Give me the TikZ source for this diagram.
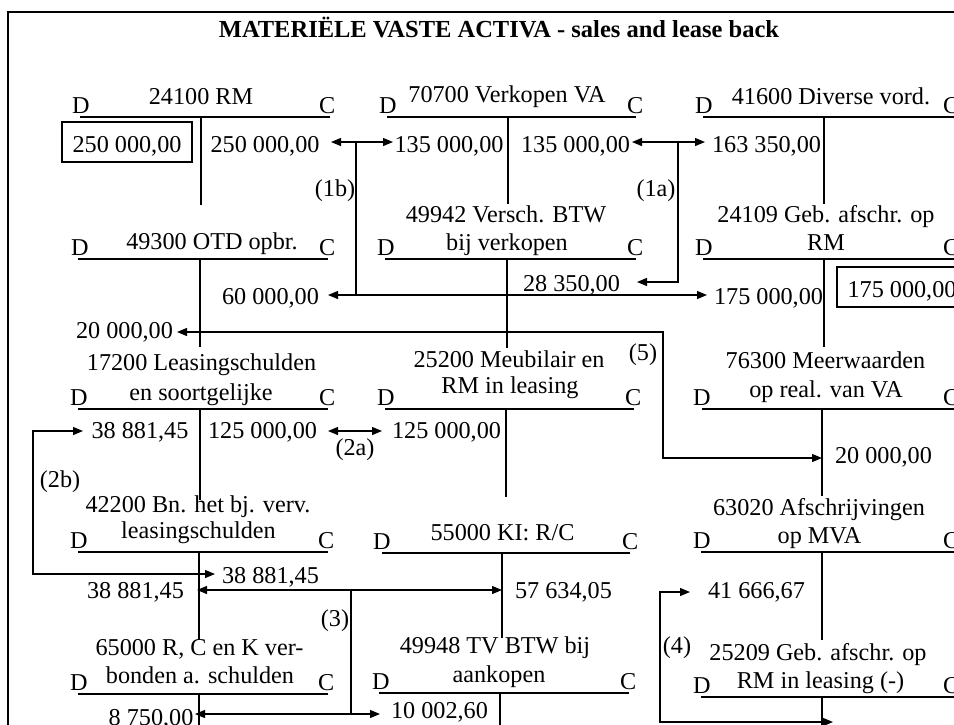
\documentclass[tikz,border=0pt]{standalone}
\usepackage{fontspec}
\setmainfont{Liberation Serif}
\usetikzlibrary{arrows.meta}
\newcommand{\tacc}[8]{%
  \draw[tline] (#2,#4) -- (#3,#4);
  \draw[tline] (#5,#4) -- (#5,#6);
  \node[anchor=base west] (#1D) at (#7,#4-4) {D};
  \node[anchor=base west] (#1C) at (#8,#4-4) {C};
}
\begin{document}
\begin{tikzpicture}[x=1pt,y=-1pt,
  every node/.style={inner sep=0pt, font=\fontsize{24.2}{28}\selectfont},
  lbl/.style={anchor=base},
  tline/.style={line width=1.2pt},
  conn/.style={line width=1.2pt, {Triangle[length=10pt,width=8pt]}-{Triangle[length=10pt,width=8pt]}},
  conn1/.style={line width=1.2pt, -{Triangle[length=10pt,width=8pt]}},
  boxed/.style={draw, line width=1.2pt, minimum width=130pt, minimum height=40pt, text height=21pt, text depth=0pt, anchor=center},
  ]
\useasboundingbox (0,0) rectangle (954,724);
\fill[white] (0,0) rectangle (954,724);
\draw[line width=2.2pt] (8,12) rectangle (1000,800);

\node[anchor=base, font=\bfseries\fontsize{24.5}{28}\selectfont] (title) at (499,37) {MATERIËLE VASTE ACTIVA - sales and lease back};

% T-accounts
\tacc{A1}{80}{330}{117}{201}{205}{72}{319}
\tacc{A2}{387}{636}{117}{508}{204}{379}{627}
\tacc{A3}{703}{960}{117}{824}{204}{695}{943}
\tacc{B1}{78}{328}{259}{200}{347}{71}{319}
\tacc{B2}{385}{636}{259}{507}{348}{377}{627}
\tacc{B3}{703}{960}{259}{824}{347}{695}{943}
\tacc{C1}{78}{328}{409}{200}{500}{70}{319}
\tacc{C2}{385}{634}{409}{506}{497}{377}{625}
\tacc{C3}{702}{960}{409}{822}{496}{693}{943}
\tacc{D1}{78}{328}{552}{199}{640}{70}{318}
\tacc{D2}{382}{630}{553}{502}{638}{373}{622}
\tacc{D3}{701}{960}{552}{822}{640}{693}{943}
\tacc{E1}{78}{328}{694}{199}{740}{70}{318}
\tacc{E2}{379}{629}{693}{500}{740}{372}{620}
\tacc{E3}{701}{960}{697}{822}{740}{693}{943}

% Row 1
\node[lbl] (tA1) at (201,104) {24100 RM};
\node[boxed] (boxA1) at (127,142) {250 000,00};
\node[lbl] (cA1) at (265,152) {250 000,00};
\node[lbl] (tA2) at (507,102) {70700 Verkopen VA};
\node[lbl] (dA2) at (449,152) {135 000,00};
\node[lbl] (cA2) at (575.5,152) {135 000,00};
\node[lbl] (tA3) at (831,104) {41600 Diverse vord.};
\node[lbl] (dA3) at (766.5,152) {163 350,00};
\node[lbl] (l1b) at (335,196) {(1b)};
\node[lbl] (l1a) at (656,196) {(1a)};

% Row 2
\node[lbl] (tB1) at (212,249) {49300 OTD opbr.};
\node[lbl] (tB2a) at (506,222) {49942 Versch. BTW};
\node[lbl] (tB2b) at (507,250) {bij verkopen};
\node[lbl] (tB3a) at (826,222) {24109 Geb. afschr. op};
\node[lbl] (tB3b) at (826,250) {RM};
\node[lbl] (cB1) at (270.5,304) {60 000,00};
\node[lbl] (cB2) at (571.5,291) {28 350,00};
\node[lbl] (dB3) at (768.5,304) {175 000,00};
\node[boxed] (boxB3) at (902,287) {175 000,00};
\node[lbl] (dB1) at (124.5,338) {20 000,00};
\node[lbl] (l5) at (643,360) {(5)};

% Row 3
\node[lbl] (tC1a) at (201.5,370) {17200 Leasingschulden};
\node[lbl] (tC1b) at (201,400) {en soortgelijke};
\node[lbl] (tC2a) at (509,367) {25200 Meubilair en};
\node[lbl] (tC2b) at (510,393) {RM in leasing};
\node[lbl] (tC3a) at (825.5,368) {76300 Meerwaarden};
\node[lbl] (tC3b) at (826,397) {op real. van VA};
\node[lbl] (dC1) at (140,438) {38 881,45};
\node[lbl] (cC1) at (262.5,438) {125 000,00};
\node[lbl] (dC2) at (446.5,438) {125 000,00};
\node[lbl] (cC3) at (883.5,463) {20 000,00};
\node[lbl] (l2a) at (355,455) {(2a)};
\node[lbl] (l2b) at (60,487) {(2b)};

% Row 4
\node[lbl] (tD1a) at (198,512) {42200 Bn. het bj. verv.};
\node[lbl] (tD1b) at (198.5,538) {leasingschulden};
\node[lbl] (tD2) at (502.5,540) {55000 KI: R/C};
\node[lbl] (tD3a) at (819,515) {63020 Afschrijvingen};
\node[lbl] (tD3b) at (819.5,543) {op MVA};
\node[lbl] (cD1) at (270.5,583) {38 881,45};
\node[lbl] (dD1) at (135.5,598) {38 881,45};
\node[lbl] (cD2) at (563.5,598) {57 634,05};
\node[lbl] (dD3) at (756.5,598) {41 666,67};
\node[lbl] (l3) at (335,626) {(3)};
\node[lbl] (l4) at (677,653) {(4)};

% Row 5
\node[lbl] (tE1a) at (199.5,655) {65000 R, C en K ver-};
\node[lbl] (tE1b) at (200,683) {bonden a. schulden};
\node[lbl] (tE2a) at (495,653) {49948 TV BTW bij};
\node[lbl] (tE2b) at (499,682) {aankopen};
\node[lbl] (tE3a) at (818,660) {25209 Geb. afschr. op};
\node[lbl] (tE3b) at (820.5,688) {RM in leasing (-)};
\node[lbl] (dE1) at (151,725) {8 750,00};
\node[lbl] (dE2) at (439.5,718) {10 002,60};

% connector points
\coordinate (a1bL) at (331,142); \coordinate (a1bR) at (393,142);
\coordinate (j1bT) at (356,142); \coordinate (j1bB) at (356,295);
\coordinate (b1bL) at (328,295); \coordinate (b1bR) at (707,295);
\coordinate (a1aL) at (632,142); \coordinate (a1aR) at (705,142);
\coordinate (j1aT) at (678,142); \coordinate (j1aB) at (678,282);
\coordinate (a1aE) at (637,282);
\coordinate (a5S) at (177,332); \coordinate (k5a) at (663,332);
\coordinate (k5b) at (663,458); \coordinate (a5E) at (822,458);
\coordinate (a2aL) at (328,431); \coordinate (a2aR) at (382,431);
\coordinate (a2bS) at (83,431); \coordinate (k2ba) at (33,431);
\coordinate (k2bb) at (33,574); \coordinate (a2bE) at (215,574);
\coordinate (a3L) at (197,590); \coordinate (a3R) at (502,590);
\coordinate (j3T) at (351,590); \coordinate (j3B) at (351,714);
\coordinate (b3L) at (195,714); \coordinate (b3R) at (380,714);
\coordinate (a4S) at (690,592); \coordinate (k4a) at (660,592);
\coordinate (k4b) at (660,722); \coordinate (a4E) at (833,722);

\draw[conn] (a1bL) -- (a1bR);
\draw[tline] (j1bT) -- (j1bB);
\draw[conn] (b1bL) -- (b1bR);
\draw[conn] (a1aL) -- (a1aR);
\draw[conn1] (j1aT) -- (j1aB) -- (a1aE);
\draw[conn] (a5S) -- (k5a) -- (k5b) -- (a5E);
\draw[conn] (a2aL) -- (a2aR);
\draw[conn] (a2bS) -- (k2ba) -- (k2bb) -- (a2bE);
\draw[conn] (a3L) -- (a3R);
\draw[tline] (j3T) -- (j3B);
\draw[conn] (b3L) -- (b3R);
\draw[conn] (a4S) -- (k4a) -- (k4b) -- (a4E);
\end{tikzpicture}
\end{document}
